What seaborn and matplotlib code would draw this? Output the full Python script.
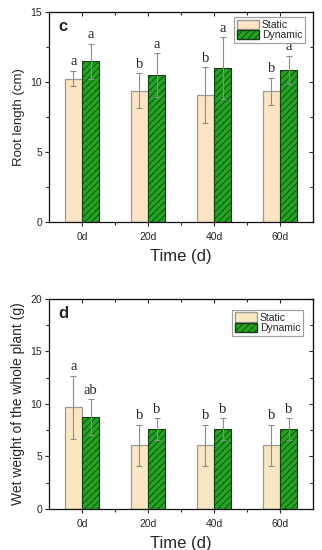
import numpy as np
import pandas as pd
import seaborn as sns
import matplotlib.pyplot as plt
from matplotlib.patches import Patch
from matplotlib.ticker import MultipleLocator, FixedLocator

# data
times = ['0d', '20d', '40d', '60d']
groups = ['Static', 'Dynamic']

root_static = [10.25, 9.4, 9.05, 9.35]
root_static_err = [0.55, 1.25, 2.0, 0.95]
root_dynamic = [11.5, 10.5, 11.0, 10.9]
root_dynamic_err = [1.25, 1.55, 2.2, 1.0]
root_static_letters = ['a', 'b', 'b', 'b']
root_dynamic_letters = ['a', 'a', 'a', 'a']

wet_static = [9.7, 6.05, 6.05, 6.05]
wet_static_err = [3.0, 1.95, 1.95, 1.95]
wet_dynamic = [8.75, 7.6, 7.6, 7.6]
wet_dynamic_err = [1.7, 1.05, 1.05, 1.05]
wet_static_letters = ['a', 'b', 'b', 'b']
wet_dynamic_letters = ['ab', 'b', 'b', 'b']

sns.set_style('ticks')
plt.rcParams['font.family'] = ['Liberation Sans', 'DejaVu Sans']
plt.rcParams['hatch.linewidth'] = 0.6

static_color = '#FDE4C4'
dynamic_color = '#22a322'
dyn_edge = '#163d16'


def panel(ax, s, s_err, d, d_err, s_let, d_let, ymax, ylabel, ysize, tag, leg_anchor, s_col):
    df = pd.DataFrame({
        'Time': times * 2,
        'Group': ['Static'] * 4 + ['Dynamic'] * 4,
        'Value': list(s) + list(d),
    })
    sns.barplot(data=df, x='Time', y='Value', hue='Group', hue_order=groups,
                palette=[s_col, dynamic_color], saturation=1, width=0.52,
                errorbar=None, legend=False, ax=ax)
    bars = ax.patches
    for i, p in enumerate(bars[:8]):
        if i < 4:
            p.set_edgecolor('#9a9a9a')
            p.set_linewidth(0.9)
        else:
            p.set_edgecolor(dyn_edge)
            p.set_linewidth(0.8)
            p.set_hatch('/////')
    xs = [p.get_x() + p.get_width() / 2 for p in bars[:8]]
    vals = list(s) + list(d)
    errs = list(s_err) + list(d_err)
    lets = list(s_let) + list(d_let)
    ax.errorbar(xs, vals, yerr=errs, fmt='none', ecolor='#8c8c8c',
                elinewidth=0.8, capsize=2, capthick=0.8, zorder=5)
    off = ymax * 0.012
    for x, v, e, t in zip(xs, vals, errs, lets):
        ax.text(x, v + e + off, t, ha='center', va='bottom', fontsize=10.5,
                family='Liberation Serif')

    ax.set_xlim(-0.5, 3.5)
    ax.set_ylim(0, ymax)
    ax.yaxis.set_major_locator(MultipleLocator(5))
    ax.yaxis.set_minor_locator(MultipleLocator(2.5))
    ax.xaxis.set_minor_locator(FixedLocator([0.5, 1.5, 2.5]))
    ax.tick_params(axis='both', which='both', labelsize=7.5, width=0.8)
    ax.tick_params(axis='y', which='major', length=3, direction='out', pad=2)
    ax.tick_params(axis='y', which='minor', length=2, direction='out')
    ax.tick_params(axis='x', which='major', length=3, direction='out', pad=4)
    ax.tick_params(axis='x', which='minor', length=2, direction='out')
    for sp in ax.spines.values():
        sp.set_visible(True)
        sp.set_linewidth(0.9)
        sp.set_color('#111111')

    # mirrored inward ticks on top and right
    top = ax.secondary_xaxis('top')
    top.set_xticks([0, 1, 2, 3])
    top.xaxis.set_minor_locator(FixedLocator([0.5, 1.5, 2.5]))
    top.tick_params(axis='x', which='major', direction='in', length=3, labeltop=False, width=0.8)
    top.tick_params(axis='x', which='minor', direction='in', length=2, width=0.8)
    right = ax.secondary_yaxis('right')
    right.yaxis.set_major_locator(MultipleLocator(5))
    right.yaxis.set_minor_locator(MultipleLocator(2.5))
    right.tick_params(axis='y', which='major', direction='in', length=3, labelright=False, width=0.8)
    right.tick_params(axis='y', which='minor', direction='in', length=2, width=0.8)

    ax.set_xlabel('Time (d)', fontsize=12, labelpad=5)
    ax.set_ylabel(ylabel, fontsize=ysize, labelpad=4)
    ax.text(0.035, 0.93, tag, transform=ax.transAxes, fontsize=12,
            fontweight='bold', va='center', ha='left')

    handles = [Patch(facecolor=s_col, edgecolor='#9a9a9a', label='Static'),
               Patch(facecolor=dynamic_color, edgecolor=dyn_edge, hatch='/////', label='Dynamic')]
    leg = ax.legend(handles=handles, loc='upper right', bbox_to_anchor=leg_anchor,
                    fontsize=7.5, frameon=True, fancybox=False, borderpad=0.25,
                    handlelength=2.1, handleheight=1.0, handletextpad=0.3,
                    labelspacing=0.0, borderaxespad=0)
    leg.get_frame().set_edgecolor('#8a8a8a')
    leg.get_frame().set_linewidth(0.9)


fig = plt.figure(figsize=(3.22, 5.5), dpi=100)
ax1 = fig.add_axes([0.152, 0.596, 0.820, 0.382])
ax2 = fig.add_axes([0.152, 0.0745, 0.820, 0.382])

panel(ax1, root_static, root_static_err, root_dynamic, root_dynamic_err,
      root_static_letters, root_dynamic_letters, 15, 'Root length (cm)', 9.5, 'c',
      (0.97, 0.976), static_color)
panel(ax2, wet_static, wet_static_err, wet_dynamic, wet_dynamic_err,
      wet_static_letters, wet_dynamic_letters, 20, 'Wet weight of the whole plant (g)', 10, 'd',
      (0.962, 0.948), '#F9E6C3')

fig.savefig('out.png', dpi=100)
